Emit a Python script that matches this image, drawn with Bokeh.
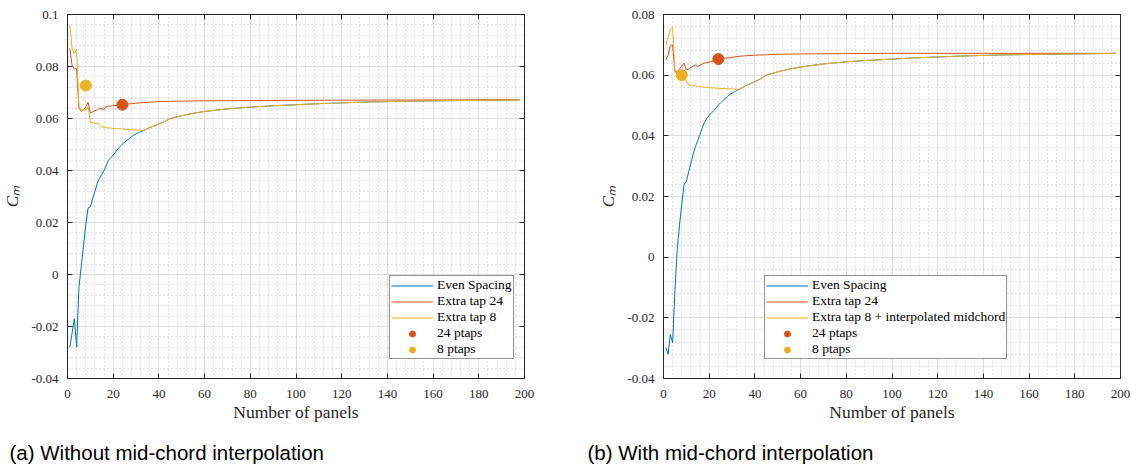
from bokeh.plotting import figure
from bokeh.models import (Range1d, SingleIntervalTicker, LinearAxis, Legend, LegendItem,
                          Title, CustomJSTickFormatter)
from bokeh.layouts import row
from bokeh.embed import file_html
from bokeh.resources import INLINE

# ---------------- data ----------------
head_x = list(range(1, 36))          # 1..35
tail_x = [36, 38, 40, 42, 45, 50, 55, 60, 70, 80, 90, 100, 110, 120, 130, 140, 150,
          160, 170, 180, 190, 198]
tail_even = [0.0565, 0.0572, 0.0579, 0.0586, 0.0600, 0.0611, 0.0620, 0.0627, 0.0637,
             0.0644, 0.0649, 0.0653, 0.0657, 0.0660, 0.0663, 0.0665, 0.0667, 0.0668,
             0.0669, 0.0670, 0.0671, 0.0672]

even_a_head = [-0.0280, -0.0225, -0.0170, -0.0280, -0.0050, 0.0030, 0.0110, 0.0190, 0.0255,
               0.0260, 0.0290, 0.0320, 0.0350, 0.0370, 0.0385, 0.0400, 0.0420, 0.0440,
               0.0450, 0.0460, 0.0470, 0.0483, 0.0492, 0.0501, 0.0509, 0.0516, 0.0523,
               0.0530, 0.0536, 0.0541, 0.0545, 0.0549, 0.0553, 0.0557, 0.0561]
even_b_head = [-0.0298, -0.0320, -0.0255, -0.0282, -0.0110, 0.0025, 0.0105, 0.0175, 0.0239,
               0.0250, 0.0280, 0.0310, 0.0340, 0.0365, 0.0385, 0.0405, 0.0428, 0.0445,
               0.0458, 0.0468, 0.0476, 0.0483, 0.0492, 0.0501, 0.0509, 0.0516, 0.0523,
               0.0530, 0.0536, 0.0541, 0.0545, 0.0549, 0.0553, 0.0557, 0.0561]

tap8_x = list(range(1, 34))          # 1..33, then joins Even Spacing
tap8_a_head = [0.0960, 0.0870, 0.0850, 0.0865, 0.0645, 0.0635, 0.0630, 0.0632, 0.0645,
               0.0585, 0.0583, 0.0582, 0.0580, 0.0578, 0.0568, 0.0566, 0.0565, 0.0564,
               0.0563, 0.0562, 0.0561, 0.0561, 0.0560, 0.0560, 0.0559, 0.0558, 0.0558,
               0.0557, 0.0557, 0.0556, 0.0556, 0.0555, 0.0554]
tap8_b_head = [0.0700, 0.0725, 0.0752, 0.0758, 0.0615, 0.0607, 0.0603, 0.0600, 0.0595,
               0.0580, 0.0568, 0.0567, 0.0566, 0.0565, 0.0563, 0.0562, 0.0561, 0.0560,
               0.0560, 0.0559, 0.0558, 0.0558, 0.0557, 0.0557, 0.0556, 0.0556, 0.0556,
               0.0555, 0.0555, 0.0555, 0.0554, 0.0554, 0.0553]

tap24_x = list(range(1, 21)) + [22, 24, 26, 28, 30, 33, 36, 40, 45, 50, 60, 80, 100, 140, 198]
tap24_a = [0.0870, 0.0805, 0.0790, 0.0793, 0.0640, 0.0628, 0.0632, 0.0645, 0.0662, 0.0622,
           0.0625, 0.0630, 0.0633, 0.0640, 0.0637, 0.0635, 0.0645, 0.0648, 0.0647, 0.0650,
           0.0650, 0.0653, 0.0655, 0.0657, 0.0659, 0.0661, 0.0663, 0.0665, 0.0666, 0.0667,
           0.0668, 0.0669, 0.0670, 0.0671, 0.0672]
tap24_b = [0.0650, 0.0665, 0.0698, 0.0700, 0.0610, 0.0612, 0.0620, 0.0630, 0.0640, 0.0617,
           0.0620, 0.0626, 0.0630, 0.0633, 0.0628, 0.0633, 0.0637, 0.0640, 0.0641, 0.0643,
           0.0647, 0.0652, 0.0655, 0.0657, 0.0659, 0.0662, 0.0664, 0.0666, 0.0667, 0.0669,
           0.0670, 0.0671, 0.0672, 0.0672, 0.0672]

pt24_x = [24]
pt24_a = [0.0653]
pt24_b = [0.0653]
pt8_x = [8]
pt8_a = [0.0727]
pt8_b = [0.0600]

legend_labels_a = ["Even Spacing", "Extra tap 24", "Extra tap 8", "24 ptaps", "8 ptaps"]
legend_labels_b = ["Even Spacing", "Extra tap 24", "Extra tap 8 + interpolated midchord",
                   "24 ptaps", "8 ptaps"]
captions = ["(a) Without mid-chord interpolation", "(b) With mid-chord interpolation"]
x_label = "Number of panels"
y_label = "C\u2098"

BLUE, RED, YEL = "#0072BD", "#D95319", "#EDB120"
AX = "#262626"
SERIF = "Liberation Serif"


def style_axis(ax):
    ax.axis_line_color = AX
    ax.major_tick_line_color = AX
    ax.major_tick_in = 5
    ax.major_tick_out = 0
    ax.minor_tick_line_color = None
    ax.major_label_text_font = SERIF
    ax.major_label_text_color = AX
    ax.major_label_text_font_size = "13px"


def panel(bl, br, y_end, even_head, tap8_head, tap24, p24, p8, labels, caption,
          leg_loc, cap_off):
    p = figure(frame_width=457, frame_height=364, x_range=Range1d(0, 200),
               y_range=Range1d(-0.04, y_end),
               output_backend="svg", toolbar_location=None, x_axis_location=None,
               y_axis_location=None,
               min_border_left=bl, min_border_right=br, min_border_top=14, min_border_bottom=5,
               background_fill_color="white", border_fill_color="white", outline_line_color=None)
    xt = SingleIntervalTicker(interval=20, num_minor_ticks=5)
    yt = SingleIntervalTicker(interval=0.02, num_minor_ticks=5)
    fmt = CustomJSTickFormatter(code="return String(Math.round(tick*100)/100);")
    blank = CustomJSTickFormatter(code="return '';")

    bottom = LinearAxis(ticker=xt, axis_label=x_label)
    left = LinearAxis(ticker=yt, formatter=fmt, axis_label=y_label)
    top = LinearAxis(ticker=xt, formatter=blank, major_label_standoff=0)
    right = LinearAxis(ticker=yt, formatter=blank, major_label_standoff=0)
    for ax in (bottom, left, top, right):
        style_axis(ax)
    p.add_layout(bottom, "below")
    p.add_layout(left, "left")
    p.add_layout(top, "above")
    p.add_layout(right, "right")
    bottom.major_label_standoff = 7
    left.major_label_standoff = 5
    bottom.axis_label_text_font = SERIF
    bottom.axis_label_text_font_style = "normal"
    bottom.axis_label_text_font_size = "17.5px"
    bottom.axis_label_text_color = AX
    bottom.axis_label_standoff = 1
    left.axis_label_text_font = SERIF
    left.axis_label_text_font_style = "italic"
    left.axis_label_text_font_size = "17px"
    left.axis_label_text_color = AX
    left.axis_label_standoff = 6

    p.xgrid.ticker = xt
    p.ygrid.ticker = yt
    for g in (p.xgrid[0], p.ygrid[0]):
        g.grid_line_color = "#dedede"
        g.grid_line_width = 1
        g.minor_grid_line_color = "#a8a8a8"
        g.minor_grid_line_alpha = 0.7
        g.minor_grid_line_dash = "1 3"

    p.add_layout(Title(text=caption, align="left", offset=cap_off, standoff=28,
                       text_font="Liberation Sans", text_font_size="20.5px",
                       text_font_style="normal", text_color="black"), "below")

    ex = head_x + tail_x
    ey = even_head + tail_even
    r1 = p.line(ex, ey, line_color=BLUE, line_width=1)
    r2 = p.line(tap24_x, tap24, line_color=RED, line_width=1)
    tx = tap8_x + ex[33:]
    ty = tap8_head + ey[33:]
    r3 = p.line(tx, ty, line_color=YEL, line_width=1)
    r4 = p.scatter(pt24_x, p24, size=11, fill_color=RED, line_color=RED)
    r5 = p.scatter(pt8_x, p8, size=11, fill_color=YEL, line_color=YEL)

    leg = Legend(items=[LegendItem(label=l, renderers=[r]) for l, r in
                        zip(labels, [r1, r2, r3, r4, r5])],
                 location=leg_loc, label_text_font=SERIF, label_text_font_size="13.5px",
                 label_text_color="black", border_line_color=AX, border_line_width=1,
                 padding=1, spacing=0, margin=0, glyph_width=42, glyph_height=15,
                 label_height=15, label_standoff=4, background_fill_color="white",
                 background_fill_alpha=1)
    p.add_layout(leg)
    return p


pa = panel(58, 55, 0.1, even_a_head, tap8_a_head, tap24_a, pt24_a, pt8_a,
           legend_labels_a, captions[0], (322, 19), -58)
pb = panel(84, 10, 0.08, even_b_head, tap8_b_head, tap24_b, pt24_b, pt8_b,
           legend_labels_b, captions[1], (101, 19), -76)

layout = row(pa, pb)
open("out.html", "w").write(file_html(layout, INLINE))
